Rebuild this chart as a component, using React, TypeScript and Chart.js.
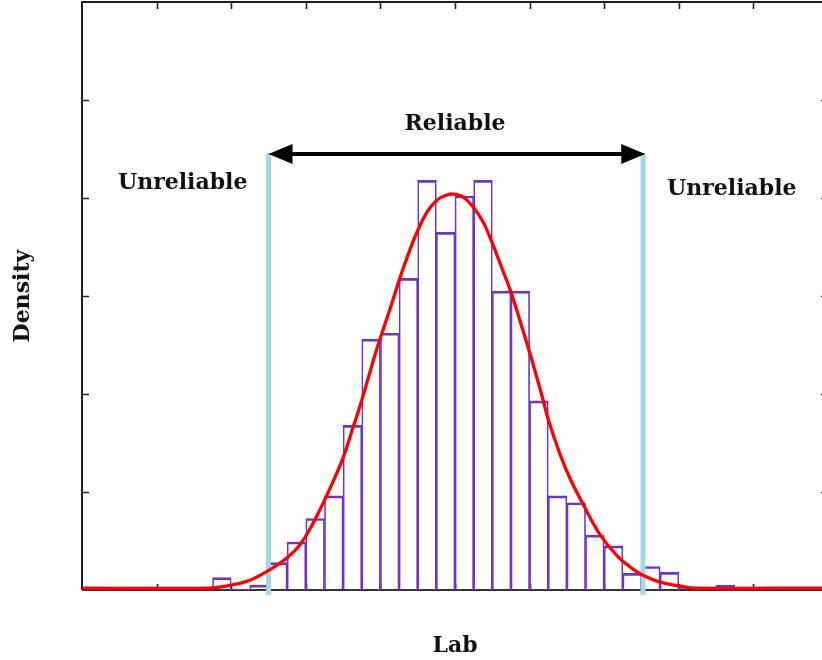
import React, { useEffect, useRef } from 'react';
import { Chart, registerables } from 'chart.js';

Chart.register(...registerables);

// Histogram bins (bin centres on the "Lab" axis) and their densities
const binCenters = [
  18.75, 21.25, 23.75, 26.25, 28.75, 31.25, 33.75, 36.25, 38.75, 41.25,
  43.75, 46.25, 48.75, 51.25, 53.75, 56.25, 58.75, 61.25, 63.75, 66.25,
  68.75, 71.25, 73.75, 76.25, 78.75, 81.25, 83.75, 86.25,
];
const binDensity = [
  0.00126, 0.0001, 0.0005, 0.0028, 0.0049, 0.0073, 0.0096, 0.0168, 0.0256, 0.0262,
  0.0318, 0.0418, 0.0365, 0.0402, 0.0418, 0.0305, 0.0305, 0.0193, 0.0096, 0.0089,
  0.0056, 0.0045, 0.0017, 0.0024, 0.0018, 0.0003, 0.0001, 0.0005,
];

// Fitted density curve, read point by point
const curveX = [
  0, 16.9, 20.0, 22.5, 24.8, 27.5, 29.2, 30.6, 31.9, 33.2,
  34.9, 36.3, 37.4, 39.0, 39.9, 41.3, 42.6, 43.9, 44.9, 46.2,
  47.6, 48.9, 49.7, 51.1, 52.4, 53.8, 55.0, 56.0, 57.4, 58.7,
  60.1, 61.7, 62.5, 64.1, 65.4, 67.2, 69.4, 71.7, 73.9, 75.2,
  77.5, 80.2, 81.9, 100,
];
const curveY = [
  0.0002, 0.0002, 0.0005, 0.0010, 0.0019, 0.0033, 0.0046, 0.0063, 0.0082, 0.0103,
  0.0133, 0.0165, 0.0191, 0.0233, 0.0255, 0.0287, 0.0318, 0.0346, 0.0365, 0.0385,
  0.0398, 0.0403, 0.0404, 0.0401, 0.0391, 0.0375, 0.0354, 0.0334, 0.0306, 0.0275,
  0.0240, 0.0197, 0.0174, 0.0138, 0.0114, 0.0087, 0.0057, 0.0035, 0.0021, 0.0015,
  0.0008, 0.0004, 0.0002, 0.0002,
];

// Unlabelled tick positions
const xTicks = [10, 20, 30, 40, 50, 60, 70, 80, 90];
const yTicks = [0.01, 0.02, 0.03, 0.04, 0.05];

// Reliability limits and annotation anchors (data space)
const limitX = [25.0, 75.2];
const limitYRange = [-0.0005, 0.0446];
const arrowX = [25.0, 75.5];
const arrowY = 0.0445;

const annotationTexts = ['Reliable', 'Unreliable', 'Unreliable'];
const annotationX = [50, 13.5, 87.1];
const annotationY = [0.0469, 0.0409, 0.0403];

const xTitle = 'Lab';
const yTitle = 'Density';

const FONT = 'bold 22px "DejaVu Serif"';

const decorPlugin = {
  id: 'decor',
  beforeDatasetsDraw(chart: any) {
    const { ctx, chartArea: a, scales } = chart;
    const xs = scales.x;
    const ys = scales.y;
    ctx.save();
    ctx.strokeStyle = '#222';
    ctx.lineWidth = 1.6;
    ctx.beginPath();
    for (const t of xTicks) {
      const px = Math.round(xs.getPixelForValue(t)) + 0.5;
      ctx.moveTo(px, a.top);
      ctx.lineTo(px, a.top + 7);
      ctx.moveTo(px, a.bottom);
      ctx.lineTo(px, a.bottom - 6);
    }
    for (const t of yTicks) {
      const py = Math.round(ys.getPixelForValue(t)) + 0.5;
      ctx.moveTo(a.left, py);
      ctx.lineTo(a.left + 7, py);
      ctx.moveTo(a.right, py);
      ctx.lineTo(a.right - 7, py);
    }
    ctx.stroke();
    ctx.lineWidth = 2;
    ctx.strokeStyle = '#1e1e1e';
    ctx.beginPath();
    ctx.moveTo(a.left, a.bottom);
    ctx.lineTo(a.left, a.top);
    ctx.lineTo(a.right, a.top);
    ctx.lineTo(a.right, a.bottom);
    ctx.stroke();
    ctx.strokeStyle = '#333';
    ctx.beginPath();
    ctx.moveTo(a.left, a.bottom);
    ctx.lineTo(a.right, a.bottom);
    ctx.stroke();
    ctx.restore();
  },
  afterDatasetsDraw(chart: any) {
    const { ctx, chartArea: a, scales } = chart;
    const xs = scales.x;
    const ys = scales.y;
    ctx.save();
    // double-headed arrow
    const x0 = xs.getPixelForValue(arrowX[0]);
    const x1 = xs.getPixelForValue(arrowX[1]);
    const py = ys.getPixelForValue(arrowY);
    const head = 24;
    const half = 10;
    ctx.strokeStyle = '#000';
    ctx.fillStyle = '#000';
    ctx.lineWidth = 4;
    ctx.beginPath();
    ctx.moveTo(x0 + head - 2, py);
    ctx.lineTo(x1 - head + 2, py);
    ctx.stroke();
    ctx.beginPath();
    ctx.moveTo(x0, py);
    ctx.lineTo(x0 + head, py - half);
    ctx.lineTo(x0 + head, py + half);
    ctx.closePath();
    ctx.fill();
    ctx.beginPath();
    ctx.moveTo(x1, py);
    ctx.lineTo(x1 - head, py - half);
    ctx.lineTo(x1 - head, py + half);
    ctx.closePath();
    ctx.fill();

    // texts
    ctx.font = FONT;
    ctx.fillStyle = '#111';
    ctx.textAlign = 'center';
    ctx.textBaseline = 'alphabetic';
    annotationTexts.forEach((t, i) => {
      ctx.fillText(t, xs.getPixelForValue(annotationX[i]), ys.getPixelForValue(annotationY[i]));
    });
    ctx.fillText(xTitle, (a.left + a.right) / 2, 652);
    ctx.save();
    ctx.translate(29, (a.top + a.bottom) / 2);
    ctx.rotate(-Math.PI / 2);
    ctx.fillText(yTitle, 0, 0);
    ctx.restore();
    ctx.restore();
  },
};

export default function App() {
  const ref = useRef<HTMLCanvasElement | null>(null);
  useEffect(() => {
    const canvas = ref.current;
    if (!canvas) return;
    const bars = binCenters.map((x, i) => ({ x, y: binDensity[i] }));
    const curve = curveX.map((x, i) => ({ x, y: curveY[i] }));
    const limitColor = '#a3d8e8';
    const chart = new Chart(canvas, {
      type: 'bar',
      data: {
        datasets: [
          {
            type: 'line',
            data: curve,
            borderColor: '#ff0000',
            borderWidth: 3.3,
            pointRadius: 0,
            tension: 0.4,
            order: 0,
          } as any,
          {
            type: 'line',
            data: [
              { x: limitX[0], y: limitYRange[0] },
              { x: limitX[0], y: limitYRange[1] },
            ],
            borderColor: limitColor,
            borderWidth: 5,
            pointRadius: 0,
            clip: false,
            order: 1,
          } as any,
          {
            type: 'line',
            data: [
              { x: limitX[1], y: limitYRange[0] },
              { x: limitX[1], y: limitYRange[1] },
            ],
            borderColor: limitColor,
            borderWidth: 5,
            pointRadius: 0,
            clip: false,
            order: 1,
          } as any,
          {
            type: 'bar',
            data: bars,
            backgroundColor: 'rgba(255,255,255,0)',
            borderColor: '#6e33c9',
            borderWidth: { top: 2, left: 1, right: 1, bottom: 0 },
            borderSkipped: false,
            barPercentage: 1,
            categoryPercentage: 1,
            order: 3,
          } as any,
        ],
      },
      options: {
        responsive: false,
        animation: false,
        events: [],
        layout: { padding: { left: 82, top: 2, right: 4, bottom: 70 } },
        plugins: { legend: { display: false }, tooltip: { enabled: false } },
        scales: {
          x: { type: 'linear', min: 0, max: 100, offset: false, display: false },
          y: { type: 'linear', min: 0, max: 0.06, display: false },
        },
      } as any,
      plugins: [decorPlugin],
    });
    return () => chart.destroy();
  }, []);

  return (
    <div
      style={{
        position: 'fixed',
        left: 0,
        top: 0,
        width: 822,
        height: 660,
        overflow: 'hidden',
        background: '#fff',
      }}
    >
      <canvas ref={ref} width={832} height={660} style={{ display: 'block', width: 832, height: 660 }} />
    </div>
  );
}
